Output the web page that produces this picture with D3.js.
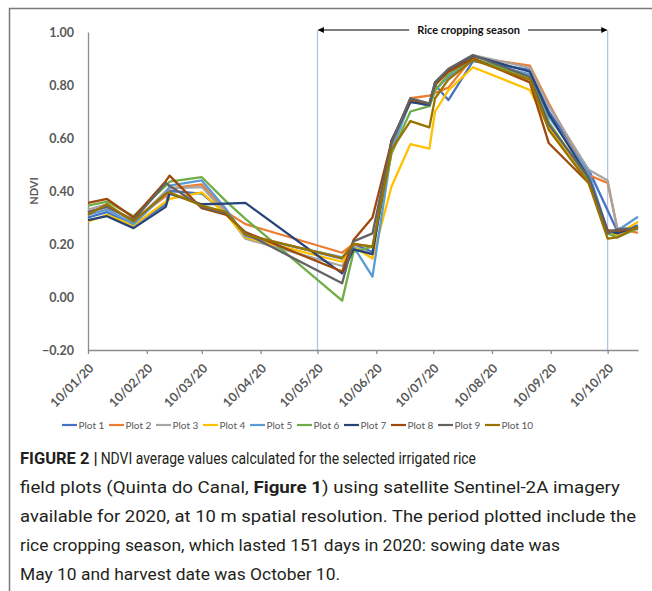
<!DOCTYPE html>
<html>
<head>
<meta charset="utf-8">
<script src="https://cdn.jsdelivr.net/npm/d3@7"></script>
<style>
  body { margin: 0; background: #fff; }
  svg { display: block; }
</style>
</head>
<body>
<div id="ndvi"></div>
<script>
// acquisition dates (Sentinel-2A scenes)
const dates = ["2020-01-10", "2020-01-20", "2020-02-03", "2020-02-20", "2020-02-22", "2020-03-10",
  "2020-03-23", "2020-04-02", "2020-05-23", "2020-05-29", "2020-06-08", "2020-06-18", "2020-06-28",
  "2020-07-08", "2020-07-11", "2020-07-18", "2020-07-31", "2020-08-30", "2020-09-09", "2020-09-30",
  "2020-10-10", "2020-10-15", "2020-10-26"]

const plot1  = [0.30, 0.32, 0.27, 0.35, 0.40, 0.39, 0.315, 0.235, 0.145, 0.20, 0.17, 0.59, 0.74, 0.73, 0.80, 0.743, 0.89, 0.857, 0.70, 0.48, null, 0.25, 0.27]
const plot2  = [0.32, 0.34, 0.29, 0.38, 0.41, 0.425, 0.32, 0.275, 0.167, 0.20, 0.19, 0.57, 0.75, 0.76, 0.77, 0.79, 0.905, 0.873, 0.73, 0.46, 0.43, 0.26, 0.242]
const plot3  = [0.33, 0.35, 0.28, 0.40, 0.41, 0.415, 0.315, 0.22, 0.117, 0.19, 0.16, 0.58, 0.75, 0.73, 0.80, 0.86, 0.913, 0.865, 0.72, 0.48, 0.44, 0.26, 0.255]
const plot4  = [0.285, 0.31, 0.27, 0.36, 0.37, 0.395, 0.31, 0.225, 0.133, 0.19, 0.145, 0.416, 0.577, 0.56, 0.70, 0.78, 0.867, 0.781, 0.64, 0.43, 0.24, 0.235, 0.284]
const plot5  = [0.31, 0.33, 0.275, 0.39, 0.42, 0.44, 0.33, 0.23, 0.15, 0.19, 0.077, 0.55, 0.74, 0.72, 0.78, 0.83, 0.895, 0.84, 0.68, 0.47, 0.25, 0.25, 0.303]
const plot6  = [0.345, 0.36, 0.305, 0.42, 0.435, 0.452, 0.36, 0.295, -0.014, 0.17, 0.19, 0.54, 0.70, 0.72, 0.78, 0.84, 0.90, 0.83, 0.66, 0.44, 0.24, 0.225, 0.26]
const plot7  = [0.29, 0.305, 0.26, 0.34, 0.39, 0.35, 0.352, 0.355, 0.089, 0.18, 0.162, 0.59, 0.735, 0.725, 0.81, 0.857, 0.91, 0.85, 0.69, 0.45, 0.25, 0.24, 0.265]
const plot8  = [0.355, 0.37, 0.30, 0.437, 0.458, 0.335, 0.31, 0.245, 0.096, 0.215, 0.30, 0.585, 0.745, 0.73, 0.80, 0.85, 0.90, 0.81, 0.58, 0.43, 0.25, 0.25, 0.26]
const plot9  = [0.32, 0.34, 0.29, 0.43, 0.42, 0.34, 0.315, 0.24, 0.052, 0.21, 0.24, 0.58, 0.75, 0.73, 0.81, 0.86, 0.913, 0.83, 0.65, 0.45, 0.24, 0.255, 0.26]
const plot10 = [0.31, 0.35, 0.285, 0.39, 0.395, 0.345, 0.32, 0.235, 0.147, 0.20, 0.19, 0.555, 0.664, 0.64, 0.75, 0.82, 0.895, 0.82, 0.63, 0.43, 0.22, 0.225, 0.265]

const plotNames = ["Plot 1", "Plot 2", "Plot 3", "Plot 4", "Plot 5", "Plot 6", "Plot 7", "Plot 8", "Plot 9", "Plot 10"]
const plotColors = ["#4472C4", "#ED7D31", "#A5A5A5", "#FFC000", "#5B9BD5", "#70AD47", "#264478", "#9E480E", "#636363", "#997300"]
const plotValues = [plot1, plot2, plot3, plot4, plot5, plot6, plot7, plot8, plot9, plot10]

const yTicks = [-0.2, 0, 0.2, 0.4, 0.6, 0.8, 1.0]
const xTickDates = ["2020-01-10", "2020-02-10", "2020-03-10", "2020-04-10", "2020-05-10",
  "2020-06-10", "2020-07-10", "2020-08-10", "2020-09-10", "2020-10-10"]
const xDomain = ["2020-01-10", "2020-10-26"]
const season = ["2020-05-10", "2020-10-10"]
const seasonLabel = "Rice cropping season"

const captionHead = "FIGURE 2 |"
const captionLines = [
  [{t: "NDVI average values calculated for the selected irrigated rice"}],
  [{t: "field plots (Quinta do Canal, "}, {t: "Figure 1", b: true}, {t: ") using satellite Sentinel-2A imagery"}],
  [{t: "available for 2020, at 10 m spatial resolution. The period plotted include the"}],
  [{t: "rice cropping season, which lasted 151 days in 2020: sowing date was"}],
  [{t: "May 10 and harvest date was October 10."}]
]
// right end of every caption line in the print
const captionEnds = [476, 620, 636, 560, 340]

const W = 652, H = 591
const margin = {top: 32, left: 88, right: 14, bottom: 241}
const labelFont = "Lato, 'Open Sans', sans-serif"
const axisGrey = "#595959"

const parse = d3.timeParse("%Y-%m-%d")

const svg = d3.select("#ndvi").append("svg")
  .attr("width", W)
  .attr("height", H)

// frame of the figure (only top + left edge are visible)
svg.append("path")
  .attr("d", `M9.5,${H} V8.5 H${W}`)
  .attr("fill", "none")
  .attr("stroke", "#7a7a7a")
  .attr("stroke-width", 1.5)

const x = d3.scaleTime()
  .domain(xDomain.map(parse))
  .range([margin.left, W - margin.right])
const y = d3.scaleLinear()
  .domain([-0.2, 1.0])
  .range([H - margin.bottom, margin.top])

// season markers
svg.selectAll("line.season")
  .data(season)
  .enter().append("line")
  .attr("class", "season")
  .attr("x1", d => x(parse(d)))
  .attr("x2", d => x(parse(d)))
  .attr("y1", 30)
  .attr("y2", y(-0.2))
  .attr("stroke", "#A9C2EC")
  .attr("stroke-width", 1.2)

// axes
const xAxis = svg.append("g")
  .attr("transform", `translate(0,${y(-0.2)})`)
  .call(d3.axisBottom(x)
    .tickValues(xTickDates.map(parse))
    .tickFormat(d3.timeFormat("%d/%m/%y"))
    .tickSize(4)
    .tickSizeOuter(0))
xAxis.select(".domain").attr("stroke", "#8c8c8c").attr("stroke-width", 1.3)
xAxis.selectAll(".tick line").attr("stroke", "#8c8c8c").attr("stroke-width", 1.3)
xAxis.selectAll(".tick text")
  .attr("x", 0).attr("y", 0).attr("dy", 0)
  .attr("transform", "translate(6,19) rotate(-45)")
  .attr("text-anchor", "end")
  .attr("fill", axisGrey)
  .style("font", `bold 12.5px ${labelFont}`)

const yAxis = svg.append("g")
  .attr("transform", `translate(${margin.left},0)`)
  .call(d3.axisLeft(y)
    .tickValues(yTicks)
    .tickFormat(d3.format(".2f"))
    .tickSize(0)
    .tickPadding(14))
yAxis.select(".domain").attr("stroke", "#8c8c8c").attr("stroke-width", 1.3)
yAxis.selectAll(".tick text")
  .attr("fill", axisGrey)
  .style("font", `bold 12.5px ${labelFont}`)

svg.append("text")
  .attr("transform", `translate(38,${y(0.4)}) rotate(-90)`)
  .attr("text-anchor", "middle")
  .attr("fill", axisGrey)
  .style("font", `bold 11px ${labelFont}`)
  .text("NDVI")

// series
const line = d3.line()
  .x(d => x(d.date))
  .y(d => y(d.v))

plotValues.forEach((vals, i) => {
  // missing scenes (clouds) are bridged, like the spreadsheet did
  const pts = dates.map((d, j) => ({date: parse(d), v: vals[j]})).filter(p => p.v !== null)
  svg.append("path")
    .datum(pts)
    .attr("fill", "none")
    .attr("stroke", plotColors[i])
    .attr("stroke-width", 2.3)
    .attr("stroke-linejoin", "round")
    .attr("d", line)
})

// rice cropping season arrow
const defs = svg.append("defs")
defs.append("marker")
  .attr("id", "arrow")
  .attr("viewBox", "0 0 10 10")
  .attr("refX", 9).attr("refY", 5)
  .attr("markerWidth", 7).attr("markerHeight", 6)
  .attr("markerUnits", "userSpaceOnUse")
  .attr("orient", "auto-start-reverse")
  .append("path")
  .attr("d", "M0,0 L10,5 L0,10 z")
  .attr("fill", "#000")

const arrowY = 30
const sx0 = x(parse(season[0])) + 1, sx1 = x(parse(season[1])) - 1
const seasonText = svg.append("text")
  .attr("x", (sx0 + sx1) / 2 + 6)
  .attr("y", arrowY)
  .attr("dy", "0.35em")
  .attr("text-anchor", "middle")
  .attr("fill", "#111")
  .style("font", `bold 11px ${labelFont}`)
  .text(seasonLabel)
const tb = seasonText.node().getBBox()
svg.append("line")
  .attr("x1", tb.x - 8).attr("x2", sx0)
  .attr("y1", arrowY).attr("y2", arrowY)
  .attr("stroke", "#000").attr("stroke-width", 1.2)
  .attr("marker-end", "url(#arrow)")
svg.append("line")
  .attr("x1", tb.x + tb.width + 8).attr("x2", sx1)
  .attr("y1", arrowY).attr("y2", arrowY)
  .attr("stroke", "#000").attr("stroke-width", 1.2)
  .attr("marker-end", "url(#arrow)")

// legend
const legend = svg.append("g").attr("transform", "translate(62,425)")
const item = legend.selectAll("g.item")
  .data(plotNames)
  .enter().append("g")
  .attr("class", "item")
  .attr("transform", (d, i) => `translate(${i * 47},0)`)
item.append("line")
  .attr("x1", 0).attr("x2", 15)
  .attr("stroke", (d, i) => plotColors[i])
  .attr("stroke-width", 2.2)
item.append("text")
  .attr("x", 16.5)
  .attr("dy", "0.35em")
  .attr("fill", axisGrey)
  .style("font", `10px ${labelFont}`)
  .text(d => d)

// caption
const capX = 20, capY = 464, capStep = 29
const caption = svg.append("g")
  .style("font", "16.5px Roboto, 'Liberation Sans', sans-serif")
  .attr("fill", "#231f20")
const head = caption.append("text")
  .attr("x", capX)
  .attr("y", capY)
  .attr("font-weight", "bold")
  .text(captionHead)
const headW = head.node().getComputedTextLength()
captionLines.forEach((parts, i) => {
  const x0 = i === 0 ? capX + headW + 3 : capX
  const t = caption.append("text")
    .attr("x", x0)
    .attr("y", capY + i * capStep)
    .attr("textLength", captionEnds[i] - x0)
    .attr("lengthAdjust", "spacingAndGlyphs")
  parts.forEach(p => {
    t.append("tspan")
      .attr("font-weight", p.b ? "bold" : null)
      .text(p.t)
  })
})
</script>
</body>
</html>
